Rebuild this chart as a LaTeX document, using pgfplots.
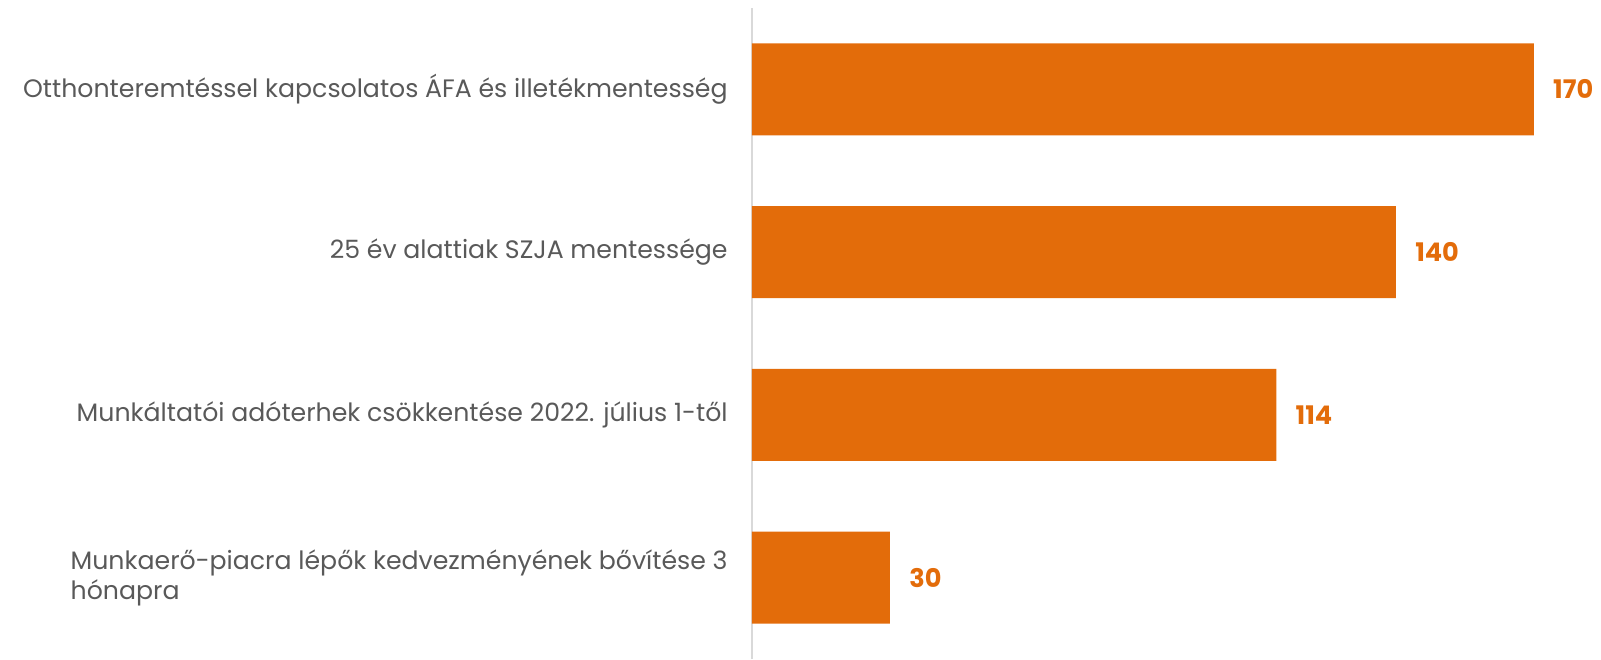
\documentclass[border=0pt]{standalone}
\usepackage{pgfplots}
\pgfplotsset{compat=1.18}
\usepackage{fontspec}
\setmainfont{Poppins}
\definecolor{barorange}{RGB}{227,108,10}
\definecolor{labelgray}{RGB}{89,89,89}
\definecolor{axisgray}{RGB}{217,217,217}
\begin{document}
\begin{tikzpicture}
\path[use as bounding box] (-376pt,0pt) rectangle (424.5pt,329.5pt);
\begin{axis}[
  at={(0,0)}, anchor=south west,
  scale only axis, width=424.5pt, height=325.5pt,
  xbar, bar width=46pt,
  xmin=0, xmax=184.6, ymin=-0.5, ymax=3.5,
  hide x axis,
  axis y line*=left,
  y axis line style={draw=axisgray, line width=1pt, -},
  ytick={0,1,2,3},
  yticklabels={{Munkaerő-piacra lépők kedvezményének bővítése 3\\hónapra},
               {Munkáltatói adóterhek csökkentése 2022. július 1-től},
               {25 év alattiak SZJA mentessége},
               {Otthonteremtéssel kapcsolatos ÁFA és illetékmentesség}},
  major tick length=0pt,
  yticklabel style={font=\fontsize{12.6}{15}\selectfont, text=labelgray, align=left, anchor=east, inner sep=0pt, xshift=-12pt},
  nodes near coords,
  nodes near coords style={font=\fontsize{12.8}{14}\selectfont\bfseries, text=barorange, inner sep=0pt, anchor=west, xshift=9.5pt, /pgf/number format/assume math mode=true},
]
\addplot[fill=barorange, draw=none] coordinates {(30,0) (114,1) (140,2) (170,3)};
\end{axis}
\end{tikzpicture}
\end{document}
